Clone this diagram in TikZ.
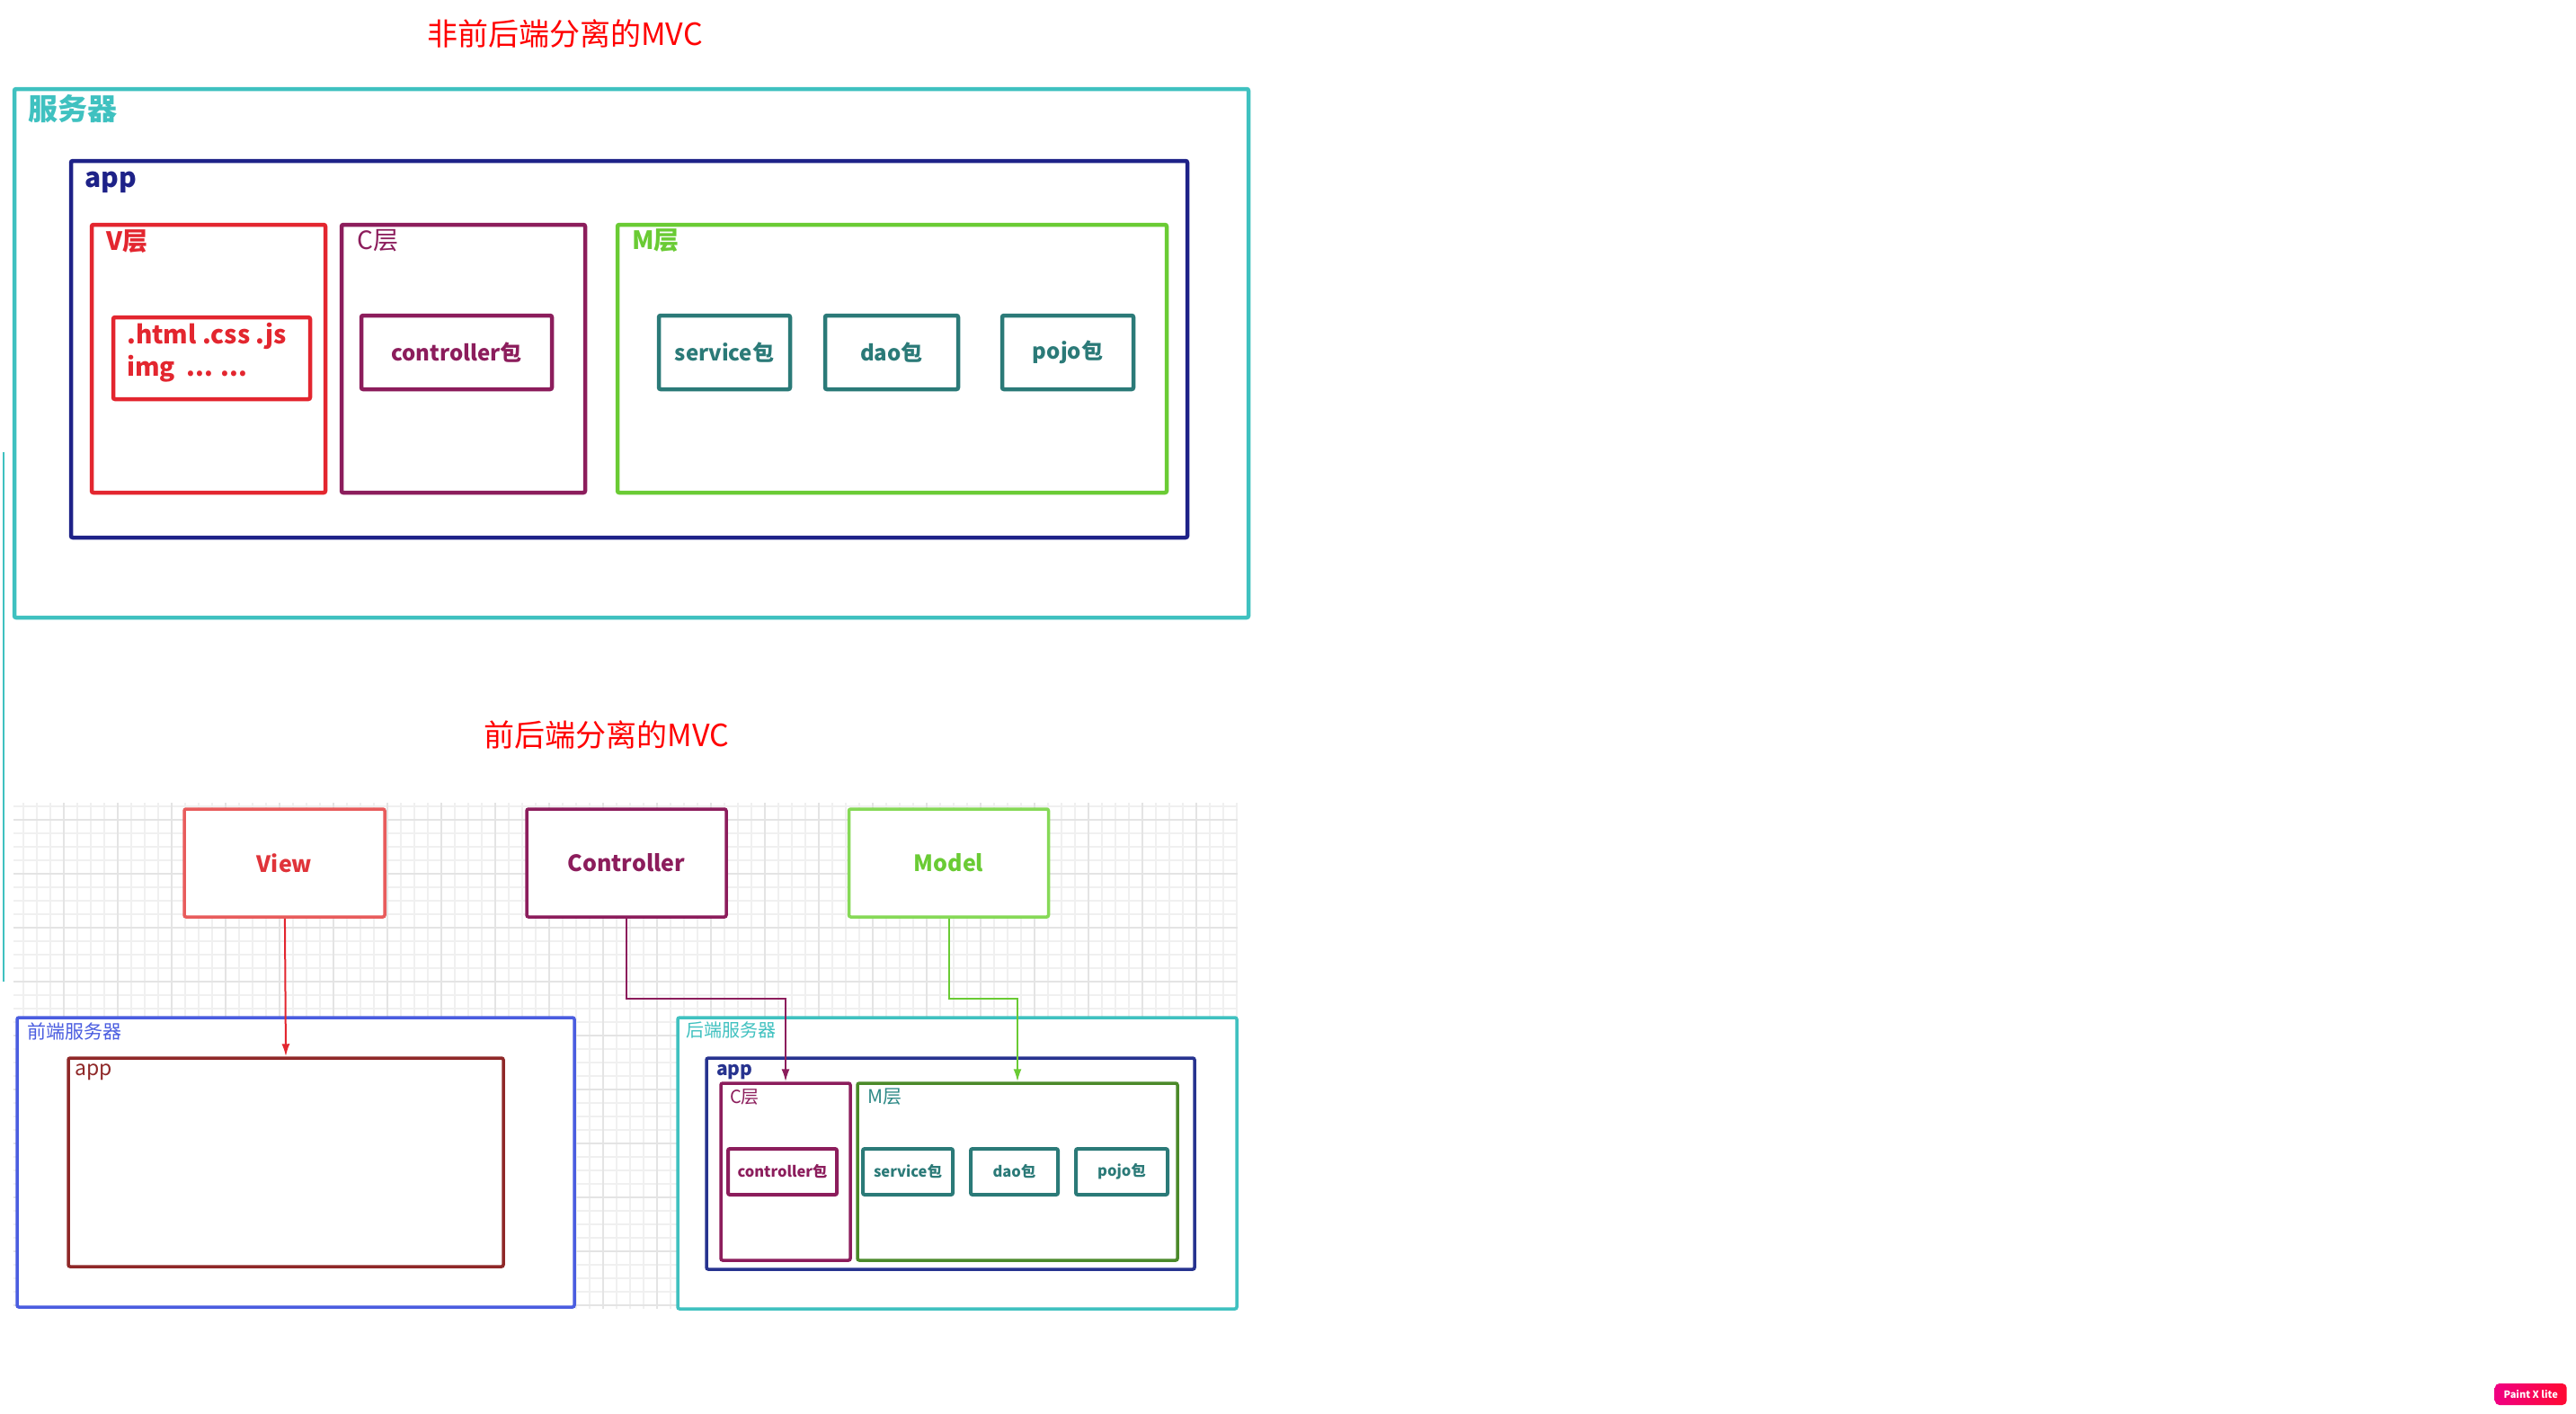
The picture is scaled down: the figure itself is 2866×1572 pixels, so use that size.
\documentclass[tikz,border=0pt]{standalone}
\usepackage{fontspec}
\setmainfont{Noto Sans CJK SC}
\usetikzlibrary{positioning,arrows.meta}

\definecolor{titlered}{RGB}{255,0,0}
\definecolor{srvteal}{RGB}{63,193,192}
\definecolor{appnavy}{RGB}{30,34,136}
\definecolor{appnavyb}{RGB}{39,51,143}
\definecolor{vred}{RGB}{227,38,47}
\definecolor{cpurple}{RGB}{140,29,92}
\definecolor{mgreen}{RGB}{106,203,52}
\definecolor{pkgteal}{RGB}{43,122,120}
\definecolor{viewbox}{RGB}{232,92,92}
\definecolor{viewtext}{RGB}{224,52,58}
\definecolor{modelbox}{RGB}{134,217,87}
\definecolor{feblue}{RGB}{74,93,224}
\definecolor{fered}{RGB}{143,40,40}
\definecolor{mdark}{RGB}{75,138,42}
\definecolor{mtext}{RGB}{46,138,135}
\definecolor{gridminor}{RGB}{240,240,240}
\definecolor{gridmajor}{RGB}{228,228,228}
\definecolor{wmpink}{RGB}{240,0,130}
\definecolor{wmred}{RGB}{255,10,50}

\begin{document}
\begin{tikzpicture}[x=1pt,y=-1pt,
    box/.style={draw,line width=4.5pt,rounded corners=2pt,fill=white,inner sep=0pt},
    sbox/.style={box,line width=3.5pt},
    tag/.style={anchor=west,inner sep=0pt},
    flow/.style={-{Latex[length=14pt,width=9pt]},line width=2pt}]
    \fill[white] (0,0) rectangle (2866,1572);
    \useasboundingbox (0,0) rectangle (2866,1572);

    % grid under the lower picture
    \begin{scope}[shift={(10.7,11.7)}]
        \draw[gridminor,line width=2pt] (4.3,881.3) grid[step=15pt] (1366.3,1444.3);
        \draw[gridmajor,line width=2pt] (4.3,881.3) grid[step=60pt] (1366.3,1444.3);
    \end{scope}
    \draw[srvteal,line width=1.5pt] (4,503) -- (4,1092);

    % upper picture
    \node[font=\fontsize{34}{40}\selectfont,text=titlered] (t1) at (628.5,37.5) {非前后端分离的MVC};
    \node[box,draw=srvteal,minimum width=1373pt,minimum height=588pt] (srv) at (702.5,393) {};
    \node[tag,font=\bfseries\fontsize{33}{40}\selectfont,text=srvteal] (srvlbl) at (31,121) {服务器};
    \node[box,draw=appnavy,minimum width=1242pt,minimum height=419pt] (app1) at (700,388.5) {};
    \node[tag,font=\bfseries\fontsize{30}{36}\selectfont,text=appnavy] (app1lbl) at (94,203) {app};

    \node[box,draw=vred,minimum width=260pt,minimum height=298pt] (vl) at (232,399) {};
    \node[tag,font=\bfseries\fontsize{28}{34}\selectfont,text=vred] (vllbl) at (118,269) {V层};
    \node[box,draw=vred,minimum width=219pt,minimum height=91pt] (files) at (235.5,398.5) {};
    \node[tag,align=left,font=\bfseries\fontsize{28}{36}\selectfont,text=vred] (fileslbl) at (141,392) {.html .css .js\\img\ \ ... ...};

    \node[box,draw=cpurple,minimum width=271pt,minimum height=298pt] (cl) at (515.5,399) {};
    \node[tag,font=\fontsize{28}{34}\selectfont,text=cpurple] (cllbl) at (397,268) {C层};
    \node[box,draw=cpurple,minimum width=212pt,minimum height=82pt,font=\bfseries\fontsize{24}{30}\selectfont,text=cpurple] (cpkg) at (508,392) {controller包};

    \node[box,draw=mgreen,minimum width=611pt,minimum height=298pt] (ml) at (992.5,399) {};
    \node[tag,font=\bfseries\fontsize{28}{34}\selectfont,text=mgreen] (mllbl) at (703,268) {M层};
    \node[box,draw=pkgteal,minimum width=146pt,minimum height=82pt,font=\bfseries\fontsize{24}{30}\selectfont,text=pkgteal] (svc) at (806,392) {service包};
    \node[box,draw=pkgteal,minimum width=148pt,minimum height=82pt,font=\bfseries\fontsize{24}{30}\selectfont,text=pkgteal] (dao) at (992,392) {dao包};
    \node[box,draw=pkgteal,minimum width=146pt,minimum height=82pt,font=\bfseries\fontsize{24}{30}\selectfont,text=pkgteal] (pojo) at (1188,392) {pojo包};

    % lower picture
    \node[font=\fontsize{34}{40}\selectfont,text=titlered] (t2) at (675,817) {前后端分离的MVC};
    \node[sbox,draw=viewbox,minimum width=223pt,minimum height=120pt,font=\bfseries\fontsize{25}{30}\selectfont,text=viewtext] (view) at (316.5,960) {View};
    \node[sbox,draw=cpurple,minimum width=222pt,minimum height=120pt,font=\bfseries\fontsize{25}{30}\selectfont,text=cpurple] (ctrl) at (697,960) {Controller};
    \node[sbox,draw=modelbox,minimum width=222pt,minimum height=120pt,font=\bfseries\fontsize{25}{30}\selectfont,text=mgreen] (model) at (1055.5,960) {Model};

    \node[sbox,draw=feblue,minimum width=620pt,minimum height=322pt] (front) at (329,1293) {};
    \node[tag,font=\fontsize{21}{26}\selectfont,text=feblue] (frontlbl) at (30,1147) {前端服务器};
    \node[sbox,draw=fered,minimum width=484pt,minimum height=232pt] (fapp) at (318,1293) {};
    \node[tag,font=\fontsize{23}{28}\selectfont,text=fered] (fapplbl) at (83,1193) {app};

    \node[sbox,draw=srvteal,minimum width=622pt,minimum height=324pt] (back) at (1065,1294) {};
    \node[tag,font=\fontsize{20}{24}\selectfont,text=srvteal] (backlbl) at (763,1146) {后端服务器};
    \node[sbox,draw=appnavyb,minimum width=543pt,minimum height=235pt] (bapp) at (1057.5,1294.5) {};
    \node[tag,font=\bfseries\fontsize{21}{26}\selectfont,text=appnavyb] (bapplbl) at (797,1193) {app};
    \node[sbox,draw=cpurple,minimum width=144pt,minimum height=197pt] (cB) at (874,1303.5) {};
    \node[tag,font=\fontsize{20}{24}\selectfont,text=cpurple] (cBlbl) at (812,1220) {C层};
    \node[sbox,draw=cpurple,line width=4pt,minimum width=121pt,minimum height=51pt,font=\bfseries\fontsize{16.5}{20}\selectfont,text=cpurple] (cpkgB) at (870.5,1303.5) {controller包};
    \node[sbox,draw=mdark,minimum width=356pt,minimum height=197pt] (mB) at (1132,1303.5) {};
    \node[tag,font=\fontsize{21}{26}\selectfont,text=mtext] (mBlbl) at (965,1220) {M层};
    \node[sbox,draw=pkgteal,line width=4pt,minimum width=100pt,minimum height=51pt,font=\bfseries\fontsize{16.5}{20}\selectfont,text=pkgteal] (svcB) at (1010,1303.5) {service包};
    \node[sbox,draw=pkgteal,line width=4pt,minimum width=97pt,minimum height=51pt,font=\bfseries\fontsize{16.5}{20}\selectfont,text=pkgteal] (daoB) at (1128.5,1303.5) {dao包};
    \node[sbox,draw=pkgteal,line width=4pt,minimum width=102pt,minimum height=51pt,font=\bfseries\fontsize{16.5}{20}\selectfont,text=pkgteal] (pojoB) at (1248,1303.5) {pojo包};

    \draw[flow,draw=vred] (view) -- (fapp.north);
    \draw[flow,draw=cpurple] (ctrl.south) -- ++(0,89) -| (cB.north);
    \draw[flow,draw=mgreen] (model.south) -- ++(0,89) -| (mB.north);

    \node[rounded corners=5pt,left color=wmpink,right color=wmred,minimum width=80pt,minimum height=24pt,inner sep=0pt,text=white,font=\bfseries\fontsize{11}{13}\selectfont] (badge) at (2815.7,1551) {Paint X lite};
\end{tikzpicture}
\end{document}
